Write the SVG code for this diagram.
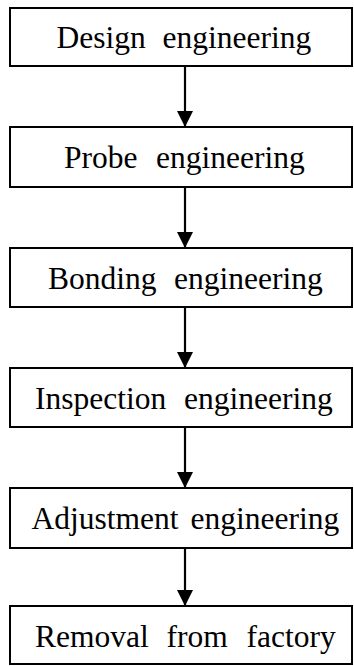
<svg xmlns="http://www.w3.org/2000/svg" width="354" height="666" viewBox="0 0 354 666">
  <style>
    .box { fill: #ffffff; stroke: #000000; stroke-width: 2; }
    .label { font-family: "Liberation Serif", "Times New Roman", serif; font-size: 31.5px; fill: #000000; }
    .link { stroke: #000000; stroke-width: 2.2; fill: none; marker-end: url(#head); }
  </style>
  <defs>
    <marker id="head" viewBox="0 0 16 16" refX="16" refY="8" markerWidth="16" markerHeight="16" markerUnits="userSpaceOnUse" orient="auto">
      <path d="M0,0 L16,8 L0,16 Z" fill="#000000"/>
    </marker>
  </defs>
  <rect width="354" height="666" fill="#ffffff"/>

  <g id="connectors">
    <line class="link" x1="185" y1="66" x2="185" y2="127"/>
    <line class="link" x1="185" y1="187" x2="185" y2="248"/>
    <line class="link" x1="185" y1="307" x2="185" y2="368"/>
    <line class="link" x1="185" y1="427" x2="185" y2="488"/>
    <line class="link" x1="185" y1="548" x2="185" y2="606"/>
  </g>

  <g id="design">
    <rect class="box" x="10" y="8" width="342" height="58"/>
    <text class="label" y="48"><tspan x="56.5">Design</tspan><tspan x="162.5">engineering</tspan></text>
  </g>
  <g id="probe">
    <rect class="box" x="10" y="127" width="342" height="60"/>
    <text class="label" y="168"><tspan x="64">Probe</tspan><tspan x="156">engineering</tspan></text>
  </g>
  <g id="bonding">
    <rect class="box" x="10" y="248" width="342" height="59"/>
    <text class="label" y="289"><tspan x="48">Bonding</tspan><tspan x="174">engineering</tspan></text>
  </g>
  <g id="inspection">
    <rect class="box" x="10" y="368" width="342" height="59"/>
    <text class="label" y="408.5"><tspan x="35">Inspection</tspan><tspan x="184">engineering</tspan></text>
  </g>
  <g id="adjustment">
    <rect class="box" x="10" y="488" width="342" height="60"/>
    <text class="label" y="529"><tspan x="31.5">Adjustment</tspan><tspan x="190.5">engineering</tspan></text>
  </g>
  <g id="removal">
    <rect class="box" x="10" y="606" width="342" height="58"/>
    <text class="label" y="646.5"><tspan x="35">Removal</tspan><tspan x="166.5">from</tspan><tspan x="246.5">factory</tspan></text>
  </g>
</svg>
